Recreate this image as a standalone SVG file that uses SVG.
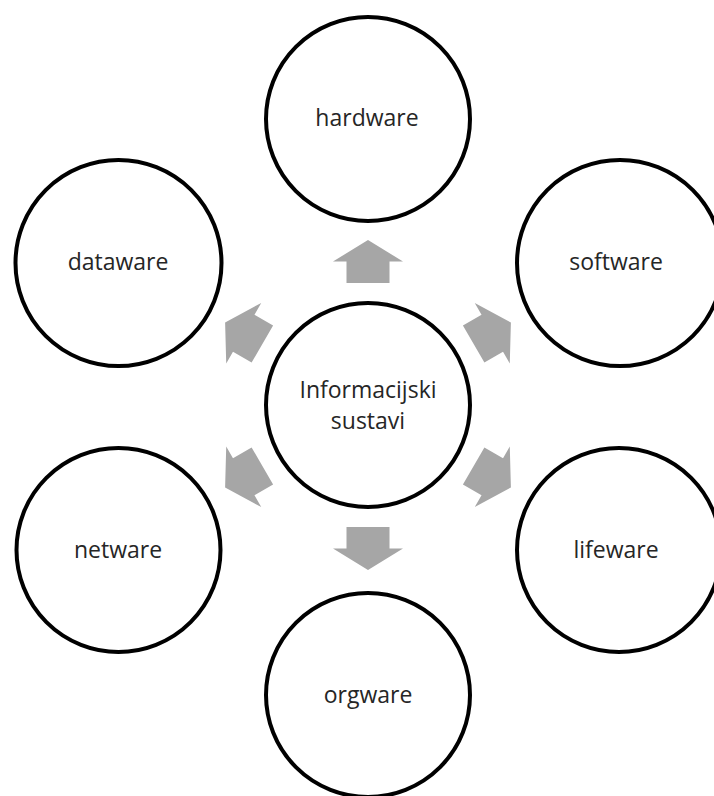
<svg xmlns="http://www.w3.org/2000/svg" xmlns:xlink="http://www.w3.org/1999/xlink" width="714" height="796" viewBox="0 0 714 796">
  <style>
    .node circle { fill: #ffffff; stroke: #000000; stroke-width: 4; }
    .node text { font-family: "Open Sans", "Noto Sans", "Liberation Sans", sans-serif; font-size: 23px; fill: #262626; text-anchor: middle; }
    .arrow { fill: #a6a6a6; }
  </style>
  <defs>
    <polygon id="arr" class="arrow" points="-21.5,-122 -21.5,-143.5 -35,-143.5 0,-165 35,-143.5 21.5,-143.5 21.5,-122"/>
  </defs>
  <rect width="714" height="796" fill="#ffffff"/>
  <g id="connectors" transform="translate(368,405)">
    <use xlink:href="#arr" href="#arr"/>
    <use xlink:href="#arr" href="#arr" transform="rotate(60)"/>
    <use xlink:href="#arr" href="#arr" transform="rotate(120)"/>
    <use xlink:href="#arr" href="#arr" transform="rotate(180)"/>
    <use xlink:href="#arr" href="#arr" transform="rotate(240)"/>
    <use xlink:href="#arr" href="#arr" transform="rotate(300)"/>
  </g>
  <g id="center" class="node">
    <circle cx="368" cy="405" r="102"/>
    <text x="368" y="398">Informacijski</text>
    <text x="368" y="429">sustavi</text>
  </g>
  <g id="hardware" class="node">
    <circle cx="368" cy="119" r="102"/>
    <text x="367" y="126">hardware</text>
  </g>
  <g id="software" class="node">
    <circle cx="620" cy="263" r="103"/>
    <text x="616" y="270">software</text>
  </g>
  <g id="lifeware" class="node">
    <circle cx="619" cy="550" r="102"/>
    <text x="616" y="558">lifeware</text>
  </g>
  <g id="orgware" class="node">
    <circle cx="368" cy="695" r="102"/>
    <text x="368" y="703">orgware</text>
  </g>
  <g id="netware" class="node">
    <circle cx="118.5" cy="550" r="102"/>
    <text x="118" y="558">netware</text>
  </g>
  <g id="dataware" class="node">
    <circle cx="118.5" cy="263" r="103"/>
    <text x="118" y="270">dataware</text>
  </g>
</svg>
